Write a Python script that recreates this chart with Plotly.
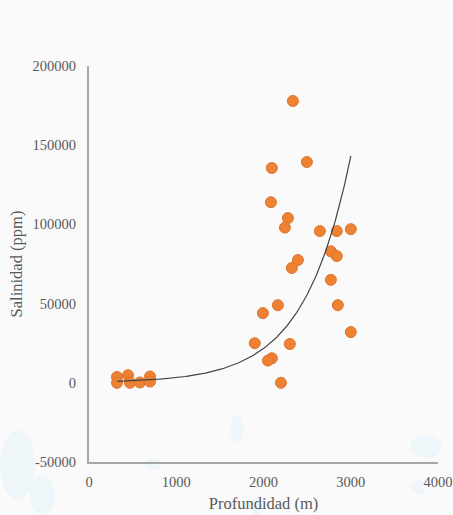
import numpy as np
import plotly.graph_objects as go

# Data
depth_m = [321, 321, 447, 470, 584, 699, 699,
           2337, 2096, 2497, 2085, 2280, 2245, 2646, 2840, 3001,
           2772, 2840, 2394, 2325, 2772, 2165, 2852, 1993, 3001,
           1900, 2302, 2096, 2050, 2200]
salinity_ppm = [3700, 0, 4800, 0, 200, 4000, 800,
                177900, 135600, 139400, 114000, 104000, 98000, 95800, 95800, 97000,
                83000, 80000, 77500, 72500, 65000, 49000, 49000, 44000, 32000,
                25000, 24500, 15500, 14000, 0]

# Exponential trendline parameters: y = a*exp(b*x)
trend_a = 496
trend_b = 0.001888

x_ticks = [0, 1000, 2000, 3000, 4000]
x_tick_labels = ["0", "1000", "2000", "3000", "4000"]
y_ticks = [-50000, 0, 50000, 100000, 150000, 200000]
y_tick_labels = ["-50000", "0", "50000", "100000", "150000", "200000"]

tx = np.linspace(min(depth_m), max(depth_m), 200)
ty = trend_a * np.exp(trend_b * tx)

W, H = 453, 515
ML, MR, MT, MB = 89, 15, 66, 53
PW, PH = W - ML - MR, H - MT - MB


def px_to_paper(x0, y0, x1, y1):
    return dict(x0=(x0 - ML) / PW, x1=(x1 - ML) / PW,
                y0=(H - MB - y0) / PH, y1=(H - MB - y1) / PH)


# faint background texture blobs (decoration)
blobs = [(0, 430, 35, 500), (30, 475, 55, 515), (230, 415, 244, 442),
         (250, 498, 264, 515), (410, 435, 442, 458), (412, 480, 426, 494),
         (145, 458, 162, 470)]
shapes = []
for b in blobs:
    d = px_to_paper(*b)
    shapes.append(dict(type="circle", xref="paper", yref="paper", layer="below",
                       fillcolor="rgba(190,225,245,0.18)", line=dict(width=0), **d))

fig = go.Figure()
fig.add_trace(go.Scatter(
    x=depth_m, y=salinity_ppm, mode="markers",
    marker=dict(color="#EE8232", size=11, line=dict(color="#DA7430", width=1)),
    showlegend=False, cliponaxis=False))
fig.add_trace(go.Scatter(
    x=tx, y=ty, mode="lines",
    line=dict(color="#444444", width=1.2),
    showlegend=False))

font_fam = "Liberation Serif, Times New Roman, serif"
fig.update_layout(
    width=W, height=H,
    margin=dict(l=ML, r=MR, t=MT, b=MB, autoexpand=False),
    paper_bgcolor="#fafafa", plot_bgcolor="rgba(0,0,0,0)",
    font=dict(family=font_fam, color="#595959", size=14.5),
    shapes=shapes,
    xaxis=dict(range=[0, 4000], tickvals=x_ticks, ticktext=x_tick_labels,
               showgrid=False, zeroline=False, automargin=False,
               showline=True, linecolor="#a6a6a6", linewidth=2,
               ticks="outside", ticklen=6, tickcolor="rgba(0,0,0,0)",
               title=dict(text="Profundidad (m)", font=dict(size=16.5, color="#595959"), standoff=8),
               tickfont=dict(size=14.5)),
    yaxis=dict(range=[-50000, 200000], tickvals=y_ticks, ticktext=y_tick_labels,
               showgrid=False, zeroline=False, automargin=False,
               showline=True, linecolor="#a6a6a6", linewidth=2,
               ticks="outside", ticklen=8, tickcolor="rgba(0,0,0,0)",
               title=dict(text="Salinidad (ppm)", font=dict(size=16.5, color="#595959"), standoff=6),
               tickfont=dict(size=14.5)),
)
fig.write_html("out.html", config={"displayModeBar": False},
               post_script="document.body.style.margin='0px';document.body.style.overflow='hidden';")
